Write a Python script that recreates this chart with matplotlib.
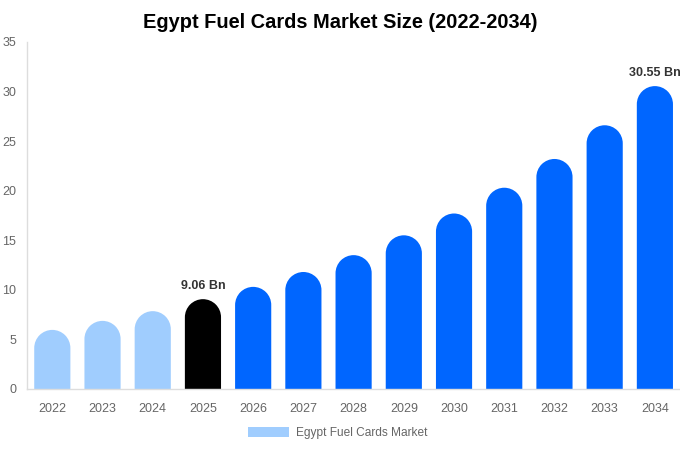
import matplotlib
matplotlib.use('Agg')
import matplotlib.pyplot as plt
import numpy as np
from matplotlib.patches import PathPatch, Patch
from matplotlib.path import Path

plt.rcParams['font.family'] = ['Liberation Sans', 'DejaVu Sans']

# data
years = ['2022', '2023', '2024', '2025', '2026', '2027', '2028',
         '2029', '2030', '2031', '2032', '2033', '2034']
values = [5.96, 6.87, 7.85, 9.06, 10.3, 11.8, 13.5, 15.5, 17.7, 20.3, 23.2, 26.6, 30.55]
labels = {3: '9.06 Bn', 12: '30.55 Bn'}

c_hist = '#a0cdfe'
c_base = '#000000'
c_fore = '#0066ff'
colors = [c_hist] * 3 + [c_base] + [c_fore] * 9

fig = plt.figure(figsize=(6.8, 4.5), dpi=100)
ax = fig.add_axes([0.04, 0.1356, 0.96, 0.7711])
ax.set_xlim(-0.5, len(years) - 0.5)
ax.set_ylim(0, 35)

# rounded-top bars, cap radius = half bar width in pixels
width = 0.72
px_per_x = ax.transData.transform((1, 0))[0] - ax.transData.transform((0, 0))[0]
px_per_y = ax.transData.transform((0, 1))[1] - ax.transData.transform((0, 0))[1]
ry = (width / 2) * px_per_x / px_per_y

arc = Path.arc(0, 180)
for i, (v, c) in enumerate(zip(values, colors)):
    rx = width / 2
    av = arc.vertices * [rx, ry] + [i, v - ry]
    verts = np.vstack([[[i + rx, 0]], av, [[i - rx, 0], [i + rx, 0]]])
    codes = ([Path.MOVETO, Path.LINETO] + list(arc.codes[1:]) +
             [Path.LINETO, Path.CLOSEPOLY])
    ax.add_patch(PathPatch(Path(verts, codes), facecolor=c, edgecolor='none'))
    if i in labels:
        ax.text(i, v + 0.75, labels[i], ha='center', va='bottom',
                fontsize=9, fontweight='bold', color='#333333')

ax.set_xticks(range(len(years)))
ax.set_xticklabels(years)
ax.set_yticks(range(0, 36, 5))
ax.tick_params(axis='both', length=0, colors='#666666', labelsize=9)
ax.tick_params(axis='x', pad=10)
ax.tick_params(axis='y', pad=8)

for s in ['top', 'right']:
    ax.spines[s].set_visible(False)
for s in ['left', 'bottom']:
    ax.spines[s].set_color('#dddddd')
    ax.spines[s].set_linewidth(1)

fig.suptitle('Egypt Fuel Cards Market Size (2022-2034)', fontsize=14.4,
             fontweight='bold', y=0.97, color='#000000')

handle = Patch(facecolor=c_hist, edgecolor='none', label='Egypt Fuel Cards Market')
fig.legend(handles=[handle], loc='lower center', bbox_to_anchor=(0.497, 0.0),
           frameon=False, fontsize=8.6, labelcolor='#666666',
           handlelength=3.4, handleheight=0.9, handletextpad=0.6)

fig.savefig('out.png', dpi=100)
